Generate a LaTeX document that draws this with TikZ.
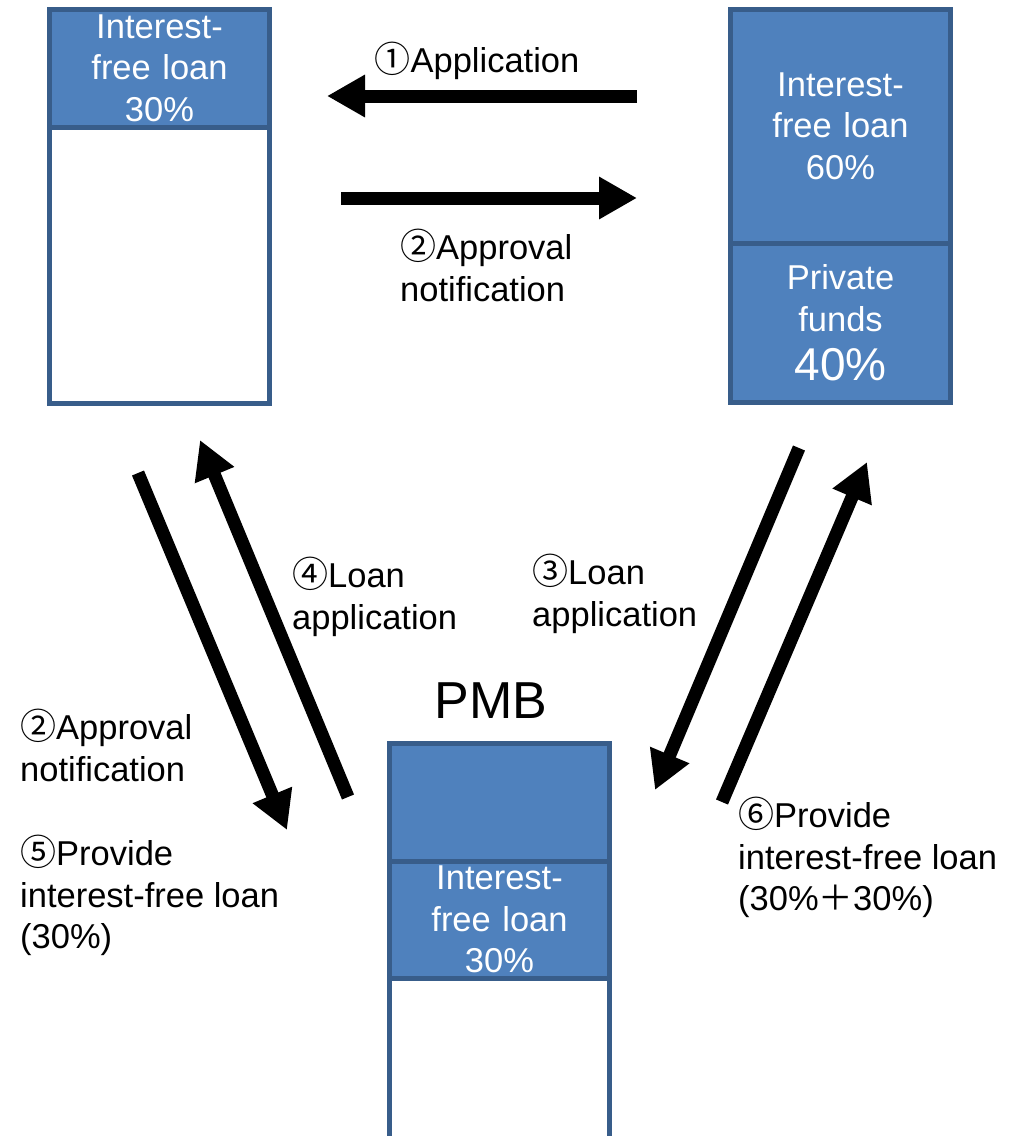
\documentclass[tikz,border=0pt]{standalone}
\usepackage{fontspec}
\setmainfont{Liberation Sans}
\newfontfamily\cjk{Noto Sans CJK JP}
\usetikzlibrary{arrows.meta}
\definecolor{cellfill}{HTML}{4F81BD}
\definecolor{cellbord}{HTML}{385D8A}
\tikzset{
  cell/.style={draw=cellbord, line width=5pt, fill=cellfill, inner sep=0pt,
    minimum width=220pt, text width=215pt, align=center, text=white,
    font=\fontsize{34.5}{41.5}\selectfont},
  emptycell/.style={cell, fill=white},
  lbl/.style={inner sep=0pt, align=left, anchor=north west,
    font=\fontsize{34.5}{41.5}\selectfont},
  blk/.style={line width=13pt, -{Triangle[length=38pt,width=40pt]}}
}
\newcommand{\cd}[1]{{\cjk\fontsize{36}{41.5}\selectfont #1}}
\begin{document}
\begin{tikzpicture}[x=1pt,y=-1pt]
\useasboundingbox (0,0) rectangle (1022,1136);
\clip (0,0) rectangle (1022,1136);
% left box
\node[cell, minimum height=117.5pt] (L1) at (159.5,68.25) {Interest-\\free loan\\30\%};
\node[emptycell, minimum height=276.5pt] (L2) at (159.5,265.25) {};
% right box
\node[cell, minimum height=233.5pt] (R1) at (840.5,126.25) {Interest-\\free loan\\60\%};
\node[cell, minimum height=159.5pt] (R2) at (840.5,322.75) {Private\\funds\\[8pt]{\fontsize{46}{50}\selectfont 40\%}};
% PMB box
\node[font=\fontsize{52}{58}\selectfont] (pmb) at (491,701) {PMB};
\node[cell, minimum height=117.5pt] (P1) at (499.5,802.25) {};
\node[cell, minimum height=117pt] (P2) at (499.5,919.5) {Interest-\\free loan\\30\%};
\node[emptycell, minimum height=182pt] (P3) at (499.5,1069) {};
% arrow end points
\coordinate (a1s) at (637,96);  \coordinate (a1e) at (327,96);
\coordinate (a2s) at (341,198); \coordinate (a2e) at (637,198);
\coordinate (a3s) at (799,448); \coordinate (a3e) at (655,790);
\coordinate (a4s) at (348,797); \coordinate (a4e) at (200,440);
\coordinate (a5s) at (138,473); \coordinate (a5e) at (287,830);
\coordinate (a6s) at (722,802); \coordinate (a6e) at (867,462);
\draw[blk] (a1s) -- (a1e);
\draw[blk] (a2s) -- (a2e);
\draw[blk] (a3s) -- (a3e);
\draw[blk] (a4s) -- (a4e);
\draw[blk] (a5s) -- (a5e);
\draw[blk] (a6s) -- (a6e);
% labels
\node[inner sep=0pt, font=\fontsize{34.5}{41.5}\selectfont] (t1) at (477,61) {\cd{①}Application};
\node[lbl] (t2) at (400,229) {\cd{②}Approval\\notification};
\node[lbl] (t4) at (292,557) {\cd{④}Loan\\application};
\node[lbl] (t3) at (532,554) {\cd{③}Loan\\application};
\node[lbl] (t2b) at (20,709) {\cd{②}Approval\\notification};
\node[lbl] (t5) at (20,835) {\cd{⑤}Provide\\interest-free loan\\(30\%)};
\node[lbl] (t6) at (738,797) {\cd{⑥}Provide\\interest-free loan\\(30\%{\cjk ＋}30\%)};
\end{tikzpicture}
\end{document}
